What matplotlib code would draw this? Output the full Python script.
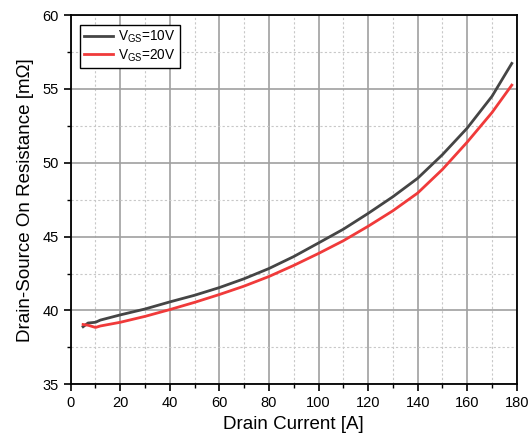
import matplotlib
matplotlib.use("Agg")
import matplotlib.pyplot as plt
from matplotlib.ticker import MultipleLocator

current = [5, 7, 10, 12, 20, 30, 40, 50, 60, 70, 80, 90, 100, 110, 120, 130, 140, 150, 160, 170, 178]
r_vgs10 = [38.9, 39.15, 39.2, 39.35, 39.7, 40.1, 40.58, 41.03, 41.55, 42.15, 42.84, 43.65, 44.57, 45.5,
           46.57, 47.7, 48.95, 50.55, 52.35, 54.5, 56.73]
r_vgs20 = [39.05, 39.0, 38.85, 38.95, 39.2, 39.6, 40.06, 40.55, 41.08, 41.65, 42.3, 43.05, 43.86, 44.72,
           45.7, 46.75, 47.95, 49.55, 51.4, 53.4, 55.26]

plt.rcParams['font.family'] = ['Liberation Sans', 'DejaVu Sans']

fig = plt.figure(figsize=(5.3, 4.45), dpi=100)
ax = fig.add_axes([0.1334, 0.1364, 0.975 - 0.1334, 0.966 - 0.1364])

ax.plot(current, r_vgs10, color='#454545', lw=2, label=r'V$_{\mathregular{GS}}$=10V', zorder=3)
ax.plot(current, r_vgs20, color='#f03a3a', lw=2, label=r'V$_{\mathregular{GS}}$=20V', zorder=3)

ax.set_xlim(0, 180)
ax.set_ylim(35, 60)
ax.xaxis.set_major_locator(MultipleLocator(20))
ax.xaxis.set_minor_locator(MultipleLocator(10))
ax.yaxis.set_major_locator(MultipleLocator(5))
ax.yaxis.set_minor_locator(MultipleLocator(2.5))
ax.grid(which='major', color='#a0a0a0', lw=1.2, ls='-')
ax.grid(which='minor', color='#c8c8c8', lw=0.8, ls=(0, (2, 2)))
ax.set_axisbelow(True)
ax.tick_params(which='major', direction='out', length=5, width=1.2, labelsize=10.5)
ax.tick_params(which='minor', direction='out', length=3, width=1)
for s in ax.spines.values():
    s.set_linewidth(1.3)

ax.set_xlabel('Drain Current [A]', fontsize=13.5, labelpad=4)
ax.set_ylabel('Drain-Source On Resistance [mΩ]', fontsize=13.5, labelpad=6)

leg = ax.legend(loc='upper left', fontsize=9.8, fancybox=False, edgecolor='black',
                framealpha=1, borderpad=0.3, handlelength=2.1, labelspacing=0.15,
                handletextpad=0.4, borderaxespad=0.7)
leg.get_frame().set_linewidth(1)

fig.savefig('out.png', dpi=100)
